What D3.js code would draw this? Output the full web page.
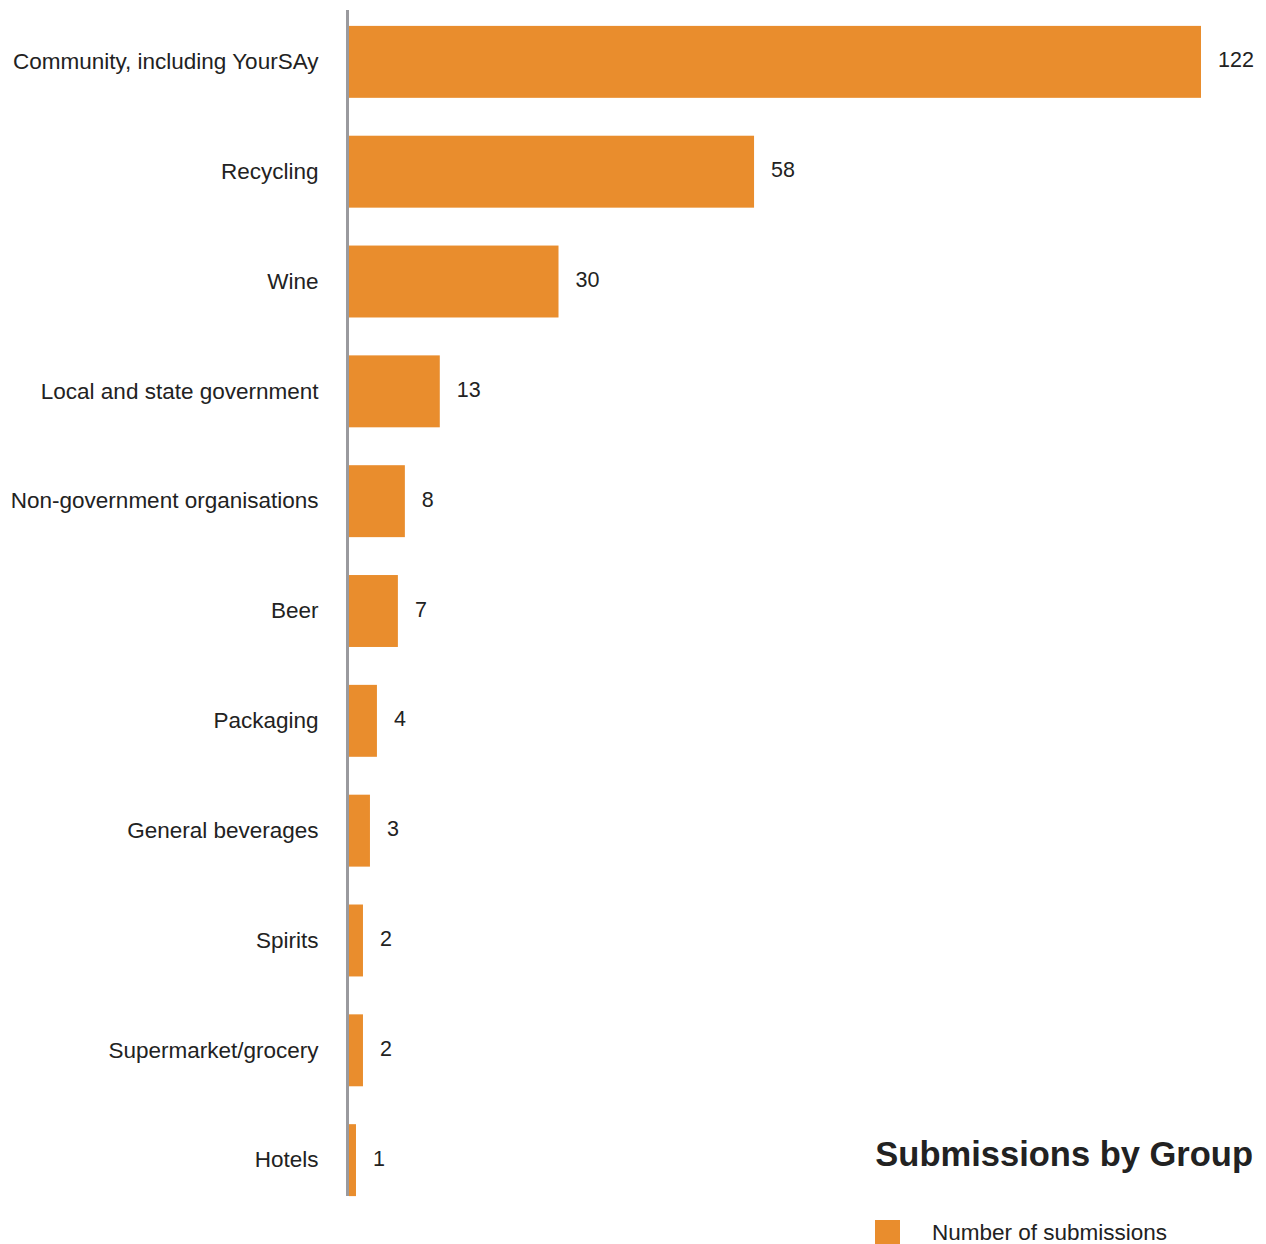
<!DOCTYPE html>
<html>
<head>
<meta charset="utf-8">
<script src="https://cdn.jsdelivr.net/npm/d3@7/dist/d3.min.js"></script>
<style>
  html, body { margin: 0; padding: 0; background: #fff; }
  svg { display: block; font-family: "Liberation Sans", Arial, sans-serif; }
</style>
</head>
<body>
<svg id="chart" width="1266" height="1244"></svg>
<script>
// Submissions received, by stakeholder group
const groups = [
  "Community, including YourSAy",
  "Recycling",
  "Wine",
  "Local and state government",
  "Non-government organisations",
  "Beer",
  "Packaging",
  "General beverages",
  "Spirits",
  "Supermarket/grocery",
  "Hotels"
];
const submissions = [122, 58, 30, 13, 8, 7, 4, 3, 2, 2, 1];
const seriesName = "Number of submissions";
const chartTitle = "Submissions by Group";

const data = groups.map((g, i) => ({ group: g, value: submissions[i] }));

const svg = d3.select("#chart");
const barColor = "#E98D2D";
const textColor = "#222222";

const x = d3.scaleLinear().domain([0, 122]).range([349, 1201]);
const y = d3.scaleBand().domain(groups).range([7, 1215]).paddingInner(0.345).paddingOuter(0.172);

// bars
svg.append("g").selectAll("rect")
  .data(data)
  .join("rect")
  .attr("x", x(0))
  .attr("y", d => y(d.group))
  .attr("width", d => x(d.value) - x(0))
  .attr("height", y.bandwidth())
  .attr("fill", barColor);

// value labels
svg.append("g").selectAll("text")
  .data(data)
  .join("text")
  .attr("x", d => x(d.value) + 17)
  .attr("y", d => y(d.group) + y.bandwidth() / 2 - 2)
  .attr("dy", "0.35em")
  .attr("font-size", 21.5)
  .attr("fill", textColor)
  .text(d => d.value);

// category axis
const yAxis = d3.axisLeft(y).tickSize(0).tickPadding(29);
const gy = svg.append("g")
  .attr("transform", `translate(${x(0) - 1.5},0)`)
  .call(yAxis);
gy.select(".domain").remove();
gy.selectAll("text")
  .attr("font-size", 22.5)
  .attr("fill", textColor)
  .attr("font-family", "Liberation Sans, Arial, sans-serif");

svg.append("line")
  .attr("x1", x(0) - 1.5).attr("x2", x(0) - 1.5)
  .attr("y1", 10).attr("y2", 1196)
  .attr("stroke", "#9a9a9e")
  .attr("stroke-width", 3);

// title and legend
svg.append("text")
  .attr("x", 1253).attr("y", 1166)
  .attr("text-anchor", "end")
  .attr("font-size", 34.5)
  .attr("font-weight", "bold")
  .attr("fill", textColor)
  .text(chartTitle);

svg.append("rect")
  .attr("x", 875).attr("y", 1220)
  .attr("width", 25).attr("height", 24)
  .attr("fill", barColor);

svg.append("text")
  .attr("x", 932).attr("y", 1240)
  .attr("font-size", 22.5)
  .attr("fill", textColor)
  .text(seriesName);
</script>
</body>
</html>
